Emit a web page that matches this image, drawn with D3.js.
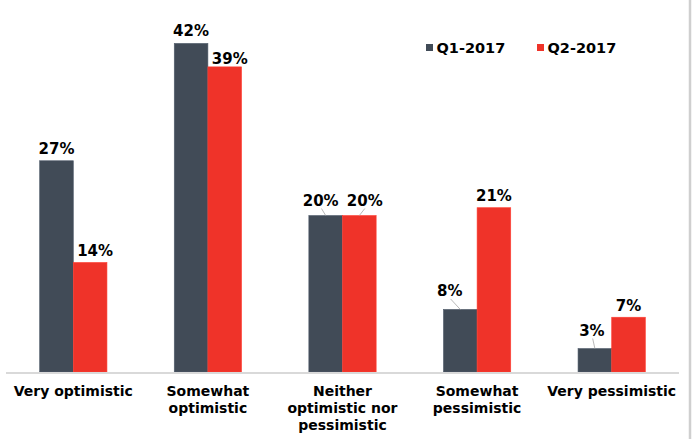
<!DOCTYPE html>
<html>
<head>
<meta charset="utf-8">
<script src="https://cdn.jsdelivr.net/npm/d3@7"></script>
<style>
  html, body { margin: 0; padding: 0; background: #fff; }
  svg { display: block; }
  text { font-family: "DejaVu Sans", Verdana, sans-serif; font-weight: bold; fill: #000; }
</style>
</head>
<body>
<svg id="chart" width="693" height="439"></svg>
<script>
// Survey categories and the share of respondents in each quarter
const categories = [
  ["Very optimistic"],
  ["Somewhat", "optimistic"],
  ["Neither", "optimistic nor", "pessimistic"],
  ["Somewhat", "pessimistic"],
  ["Very pessimistic"]
];
const seriesNames = ["Q1-2017", "Q2-2017"];
const q1Values = [27, 42, 20, 8, 3];
const q2Values = [14, 39, 20, 21, 7];

// Label offsets [dx, dy] relative to the top centre of each bar;
// larger dy values get a leader line back to the bar.
const labelNudgeQ1 = [[0, -7], [0, -7.5], [-5, -10], [-10.5, -13.5], [-3, -13]];
const labelNudgeQ2 = [[5, -6.5], [5, -3], [5.5, -10], [0, -7], [0, -6.5]];

const colors = ["#414b57", "#ef3329"];
const values = [q1Values, q2Values];
const nudges = [labelNudgeQ1, labelNudgeQ2];

const svg = d3.select("#chart");
const baseY = 372;

const keys = categories.map(c => c.join(" "));
const x = d3.scaleBand().domain(keys).range([6, 679]).paddingInner(0.5).paddingOuter(0.25);
const xs = d3.scaleBand().domain(seriesNames).range([0, x.bandwidth()]);
const y = d3.scaleLinear().domain([0, 42]).range([baseY, 43.4]);

// right-hand frame edge
svg.append("line")
  .attr("x1", 690).attr("x2", 690).attr("y1", 0).attr("y2", 439)
  .attr("stroke", "#cfcfcf").attr("stroke-width", 2.5);

// bars
seriesNames.forEach((s, si) => {
  svg.append("g").selectAll("rect")
    .data(values[si])
    .join("rect")
    .attr("x", (d, i) => x(keys[i]) + xs(s))
    .attr("y", d => y(d))
    .attr("width", xs.bandwidth())
    .attr("height", d => baseY - y(d))
    .attr("fill", colors[si])
    .attr("stroke", d3.color(colors[si]).brighter(0.6))
    .attr("stroke-width", 0.6);
});

// baseline
svg.append("line")
  .attr("x1", 6).attr("x2", 679).attr("y1", baseY + 1).attr("y2", baseY + 1)
  .attr("stroke", "#d9d9d9").attr("stroke-width", 2);

// value labels with optional leader lines
seriesNames.forEach((s, si) => {
  const g = svg.append("g");
  values[si].forEach((v, i) => {
    const cx = x(keys[i]) + xs(s) + xs.bandwidth() / 2;
    const top = y(v);
    const [dx, dy] = nudges[si][i];
    const lx = cx + dx, ly = top + dy;
    if (dy <= -9.5) {
      g.append("line")
        .attr("x1", lx + (dx < 0 ? 0.8 : 0)).attr("y1", ly + 3)
        .attr("x2", cx).attr("y2", top)
        .attr("stroke", "#a6a6a6").attr("stroke-width", 0.8);
    }
    g.append("text")
      .attr("x", lx).attr("y", ly)
      .attr("text-anchor", "middle")
      .attr("font-size", 15)
      .text(v + "%");
  });
});

// category axis labels
const axis = svg.append("g");
categories.forEach((lines, i) => {
  const t = axis.append("text")
    .attr("x", x(keys[i]) + x.bandwidth() / 2)
    .attr("y", 396)
    .attr("text-anchor", "middle")
    .attr("font-size", 14);
  lines.forEach((ln, li) => {
    t.append("tspan")
      .attr("x", x(keys[i]) + x.bandwidth() / 2)
      .attr("dy", li === 0 ? 0 : 17)
      .text(ln);
  });
});

// legend
const legendX = [426, 537];
seriesNames.forEach((s, si) => {
  svg.append("rect")
    .attr("x", legendX[si]).attr("y", 44)
    .attr("width", 7).attr("height", 7)
    .attr("fill", colors[si]);
  svg.append("text")
    .attr("x", legendX[si] + 10.5).attr("y", 53)
    .attr("font-size", 14.5)
    .text(s);
});
</script>
</body>
</html>
